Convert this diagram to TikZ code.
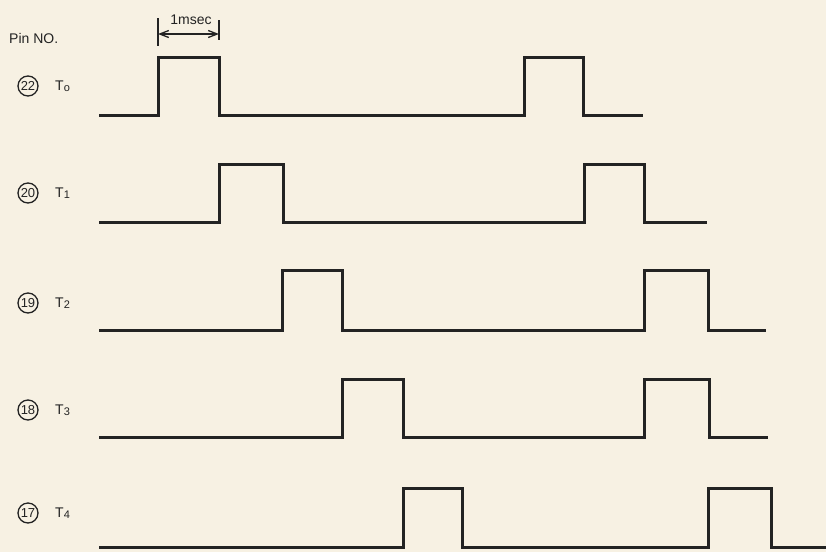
\documentclass[tikz,border=0pt]{standalone}
\usepackage{fontspec}
\setmainfont{Liberation Sans}
\usetikzlibrary{arrows.meta}
\definecolor{paper}{HTML}{F7F1E3}
\definecolor{ink}{HTML}{232323}
\begin{document}
\begin{tikzpicture}[x=1pt,y=-1pt,
  wave/.style={draw=ink, line width=3pt, line join=miter},
  pin/.style={circle, draw=ink, line width=1.3pt, minimum size=20pt, inner sep=0pt,
              font=\fontsize{13}{13}\selectfont, text=ink},
  sig/.style={anchor=west, font=\fontsize{14}{15}\selectfont, text=ink, inner sep=0pt},
  lbl/.style={font=\fontsize{14}{15}\selectfont, text=ink, inner sep=0pt},
  tick/.style={draw=ink, line width=1.4pt},
  dim/.style={draw=ink, line width=1.3pt, {Straight Barb[length=9pt,width=7pt]}-{Straight Barb[length=9pt,width=7pt]}}]
\fill[paper] (0,0) rectangle (826,552);
\useasboundingbox (0,0) rectangle (826,552);

% header
\node[lbl, anchor=west] (pinno) at (9,38) {Pin NO.};
\coordinate (t1top) at (158,18);
\coordinate (t1bot) at (158,46);
\coordinate (t2top) at (219,20);
\coordinate (t2bot) at (219,40);
\coordinate (a1) at (158,34);
\coordinate (a2) at (219,34);
\draw[tick] (t1top) -- (t1bot);
\draw[tick] (t2top) -- (t2bot);
\draw[dim] (a1) -- (a2);
\node[lbl] (msec) at (191,20) {1msec};

% pin labels
\node[pin] (p22) at (28,86) {22};
\node[pin] (p20) at (28,193) {20};
\node[pin] (p19) at (28,303) {19};
\node[pin] (p18) at (28,410) {18};
\node[pin] (p17) at (28,513) {17};
\node[sig] (s0) at (55,86) {T\raisebox{-1.5pt}{\fontsize{11}{11}\selectfont o}};
\node[sig] (s1) at (55,193) {T\raisebox{-1.5pt}{\fontsize{11}{11}\selectfont 1}};
\node[sig] (s2) at (55,303) {T\raisebox{-1.5pt}{\fontsize{11}{11}\selectfont 2}};
\node[sig] (s3) at (55,410) {T\raisebox{-1.5pt}{\fontsize{11}{11}\selectfont 3}};
\node[sig] (s4) at (55,513) {T\raisebox{-1.5pt}{\fontsize{11}{11}\selectfont 4}};

% waveforms
\draw[wave] (99,115) -- (158,115) -- (158,57) -- (219,57) -- (219,115)
  -- (524,115) -- (524,57) -- (583,57) -- (583,115) -- (643,115);
\draw[wave] (99,222) -- (219,222) -- (219,164) -- (283,164) -- (283,222)
  -- (584,222) -- (584,164) -- (644,164) -- (644,222) -- (707,222);
\draw[wave] (99,330) -- (282,330) -- (282,270) -- (342,270) -- (342,330)
  -- (644,330) -- (644,270) -- (708,270) -- (708,330) -- (766,330);
\draw[wave] (99,437) -- (342,437) -- (342,379) -- (403,379) -- (403,437)
  -- (644,437) -- (644,379) -- (709,379) -- (709,437) -- (768,437);
\draw[wave] (99,547) -- (403,547) -- (403,488) -- (462,488) -- (462,547)
  -- (708,547) -- (708,488) -- (771,488) -- (771,547) -- (826,547);
\end{tikzpicture}
\end{document}
